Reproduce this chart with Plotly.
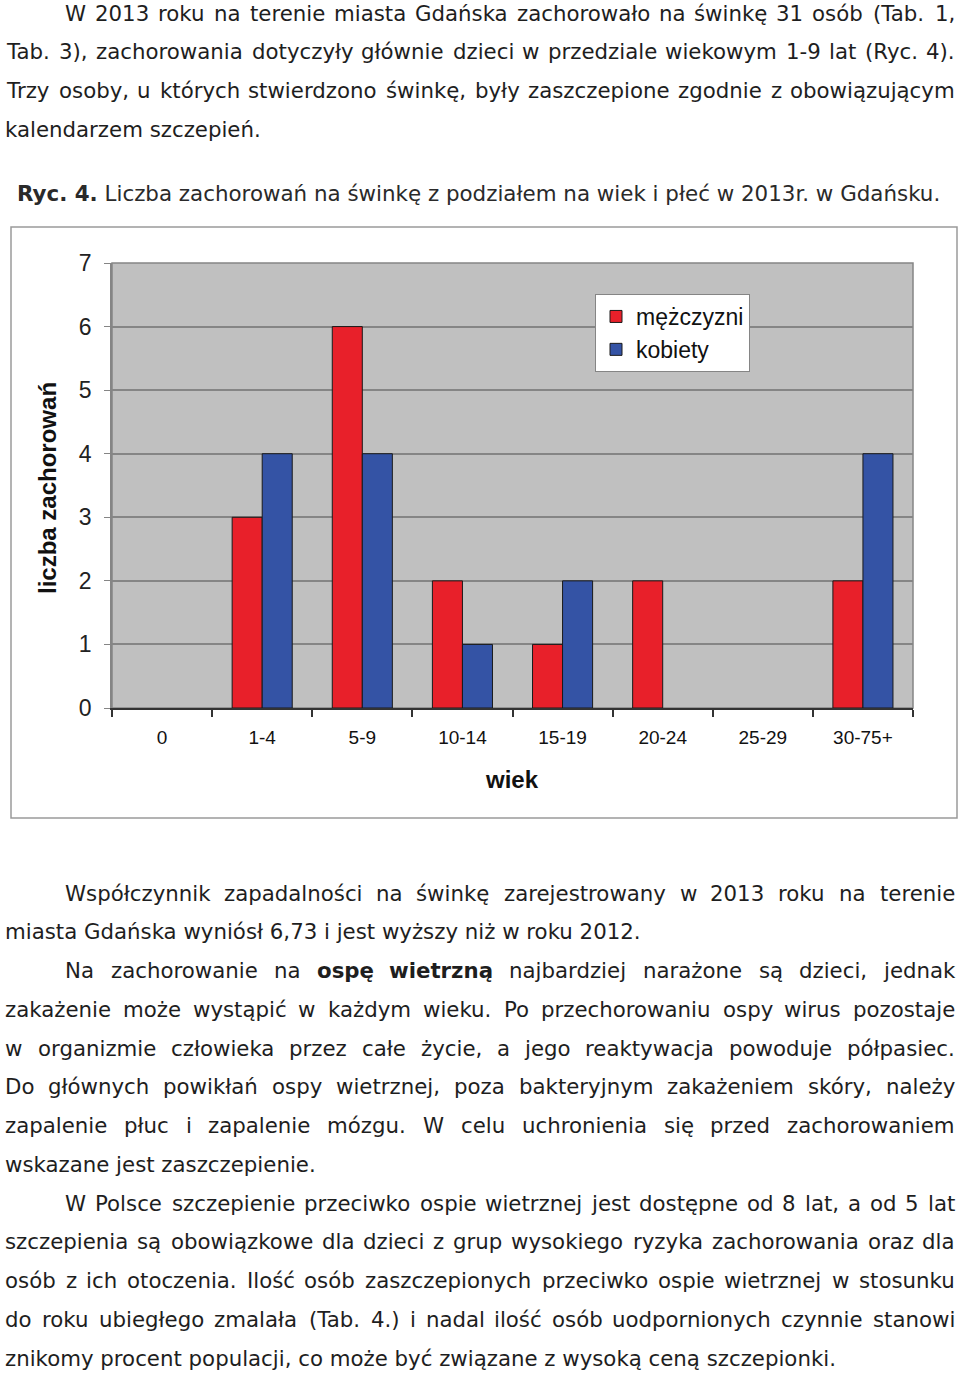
import re
import plotly.graph_objects as go

W, H = 960, 1373

# dane wykresu
age_groups = ["0", "1-4", "5-9", "10-14", "15-19", "20-24", "25-29", "30-75+"]
men = [0, 3, 6, 2, 1, 2, 0, 2]
women = [0, 4, 4, 1, 2, 0, 0, 4]
y_ticks = [0, 1, 2, 3, 4, 5, 6, 7]

# tekst strony: (tekst, wyjustowany?, wcięcie?)
para_top = [
    ("W 2013 roku na terenie miasta Gdańska zachorowało na świnkę 31 osób (Tab. 1,", True, True),
    ("Tab. 3), zachorowania dotyczyły głównie dzieci w przedziale wiekowym 1-9 lat (Ryc. 4).", True, False),
    ("Trzy osoby, u których stwierdzono świnkę, były zaszczepione zgodnie z obowiązującym", True, False),
    ("kalendarzem szczepień.", False, False),
]
caption = "<b>Ryc. 4.</b> Liczba zachorowań na świnkę z podziałem na wiek i płeć w 2013r. w Gdańsku."
para_bottom = [
    ("Współczynnik zapadalności na świnkę zarejestrowany w 2013 roku na terenie", True, True),
    ("miasta Gdańska wyniósł 6,73 i jest wyższy niż w roku 2012.", False, False),
    ("Na zachorowanie na <b>ospę</b> <b>wietrzną</b> najbardziej narażone są dzieci, jednak", True, True),
    ("zakażenie może wystąpić w każdym wieku. Po przechorowaniu ospy wirus pozostaje", True, False),
    ("w organizmie człowieka przez całe życie, a jego reaktywacja powoduje półpasiec.", True, False),
    ("Do głównych powikłań ospy wietrznej, poza bakteryjnym zakażeniem skóry, należy", True, False),
    ("zapalenie płuc i zapalenie mózgu. W celu uchronienia się przed zachorowaniem", True, False),
    ("wskazane jest zaszczepienie.", False, False),
    ("W Polsce szczepienie przeciwko ospie wietrznej jest dostępne od 8 lat, a od 5 lat", True, True),
    ("szczepienia są obowiązkowe dla dzieci z grup wysokiego ryzyka zachorowania oraz dla", True, False),
    ("osób z ich otoczenia. Ilość osób zaszczepionych przeciwko ospie wietrznej w stosunku", True, False),
    ("do roku ubiegłego zmalała (Tab. 4.) i nadal ilość osób uodpornionych czynnie stanowi", True, False),
    ("znikomy procent populacji, co może być związane z wysoką ceną szczepionki.", False, False),
]

TXT_FONT = "DejaVu Sans, Verdana"
TXT_SIZE = 21.3
TXT_COLOR = "#1e1e1e"

# przybliżone szerokości znaków DejaVu Sans (jednostki /2048)
_w = dict(zip("abcdefghijklmnopqrstuvwxyz",
              [1255, 1300, 1126, 1300, 1260, 721, 1300, 1298, 569, 569, 1186, 569, 1995,
               1298, 1253, 1300, 1300, 842, 1067, 803, 1298, 1212, 1675, 1212, 1212, 1075]))
_w.update(zip("ABCDEFGHIJKLMNOPQRSTUVWXYZ",
              [1401, 1405, 1430, 1577, 1294, 1178, 1587, 1540, 604, 604, 1343, 1141, 1767,
               1532, 1612, 1235, 1612, 1423, 1300, 1251, 1499, 1401, 2025, 1403, 1251, 1405]))
_w.update({c: 1303 for c in "0123456789"})
_w.update({" ": 651, ",": 651, ".": 651, "(": 799, ")": 799, "-": 739, ":": 690, "+": 1716})
_w.update({"ą": 1255, "ć": 1126, "ę": 1260, "ł": 600, "ń": 1298, "ó": 1253, "ś": 1067,
           "ź": 1075, "ż": 1075, "Ś": 1300, "Ł": 1141, "Ż": 1405})


def text_w(word):
    bold = "<b>" in word
    plain = re.sub(r"<[^>]+>", "", word)
    w = sum(_w.get(c, 1200) for c in plain) / 2048 * TXT_SIZE
    return w * 1.12 if bold else w


annotations = []


def add_line(text, y_px, justified, indent):
    x0 = 65 if indent else 5
    x1 = 955
    yp = 1 - y_px / H
    font = dict(family=TXT_FONT, size=TXT_SIZE, color=TXT_COLOR)
    if not justified:
        annotations.append(dict(text=text, x=(x0 - 2) / W, y=yp, xref="paper", yref="paper",
                                xanchor="left", yanchor="middle", showarrow=False, font=font))
        return
    words = text.split(" ")
    widths = [text_w(w) for w in words]
    gap = (x1 - x0 - sum(widths)) / (len(words) - 1)
    x = x0
    for wd_text, wd in zip(words, widths):
        annotations.append(dict(text=wd_text, x=(x + wd / 2) / W, y=yp, xref="paper",
                                yref="paper", xanchor="center", yanchor="middle",
                                showarrow=False, font=font))
        x += wd + gap


for i, (t, j, ind) in enumerate(para_top):
    add_line(t, 13 + i * 38.7, j, ind)
for i, (t, j, ind) in enumerate(para_bottom):
    add_line(t, 893 + i * 38.75, j, ind)

annotations.append(dict(text=caption, x=15 / W, y=1 - 194 / H, xref="paper", yref="paper",
                        xanchor="left", yanchor="middle", showarrow=False,
                        font=dict(family=TXT_FONT, size=21.4, color="#2a2a2a")))

# tytuły osi
annotations.append(dict(text="<b>liczba zachorowań</b>", x=48 / W, y=1 - 488 / H,
                        xref="paper", yref="paper", textangle=-90, showarrow=False,
                        xanchor="center", yanchor="middle",
                        font=dict(family="Liberation Sans, Arial", size=24, color="#111")))
annotations.append(dict(text="<b>wiek</b>", x=512 / W, y=1 - 779 / H,
                        xref="paper", yref="paper", showarrow=False,
                        xanchor="center", yanchor="middle",
                        font=dict(family="Liberation Sans, Arial", size=24, color="#111")))

# słupki o wartości 0 nie są rysowane
fig = go.Figure()
fig.add_trace(go.Bar(x=age_groups, y=[v if v else None for v in men], name="mężczyzni",
                     legendgroup="m",
                     marker=dict(color="#E8202A", line=dict(color="#1a1a1a", width=1))))
fig.add_trace(go.Bar(x=age_groups, y=[v if v else None for v in women], name="kobiety",
                     legendgroup="k",
                     marker=dict(color="#3453A5", line=dict(color="#1a1a1a", width=1))))

shapes = [
    # ramka całego wykresu
    dict(type="rect", xref="paper", yref="paper", x0=11 / W, x1=957 / W,
         y0=1 - 818 / H, y1=1 - 227 / H, line=dict(color="#9a9a9a", width=1.5)),
    # ramka obszaru rysowania
    dict(type="rect", xref="x domain", yref="y domain", x0=0, x1=1, y0=0, y1=1,
         line=dict(color="#858585", width=1.5), layer="below"),
]

fig.update_layout(
    width=W, height=H, autosize=False,
    margin=dict(l=0, r=0, t=0, b=0),
    paper_bgcolor="white",
    plot_bgcolor="#C0C0C0",
    barmode="group", bargap=0.4, bargroupgap=0,
    showlegend=True,
    legend=dict(x=595 / W, y=1 - 294 / H, xanchor="left", yanchor="top",
                bgcolor="white", bordercolor="#858585", borderwidth=1,
                font=dict(family="Liberation Sans, Arial", size=23, color="#111"),
                tracegroupgap=4, traceorder="normal"),
    annotations=annotations,
    shapes=shapes,
    xaxis=dict(domain=[112 / W, 913 / W], type="category", tickson="boundaries",
               ticks="outside", ticklen=7, tickcolor="#333", tickwidth=1.5,
               showline=True, linecolor="#333", linewidth=1.5, showgrid=False,
               automargin=False, ticklabelstandoff=11,
               tickfont=dict(family="Liberation Sans, Arial", size=19, color="#111")),
    yaxis=dict(domain=[1 - 708 / H, 1 - 263 / H], range=[0, 7], tickvals=y_ticks,
               ticks="outside", ticklen=6, tickcolor="#858585",
               showline=True, linecolor="#858585", linewidth=1.5,
               showgrid=True, gridcolor="#858585", gridwidth=1.5, zeroline=False,
               automargin=False, ticklabelstandoff=8,
               tickfont=dict(family="Liberation Sans, Arial", size=23, color="#222")),
)

fig.write_html("out.html", config={"displayModeBar": False},
               post_script="document.body.style.margin='0';document.body.style.overflow='hidden';")
